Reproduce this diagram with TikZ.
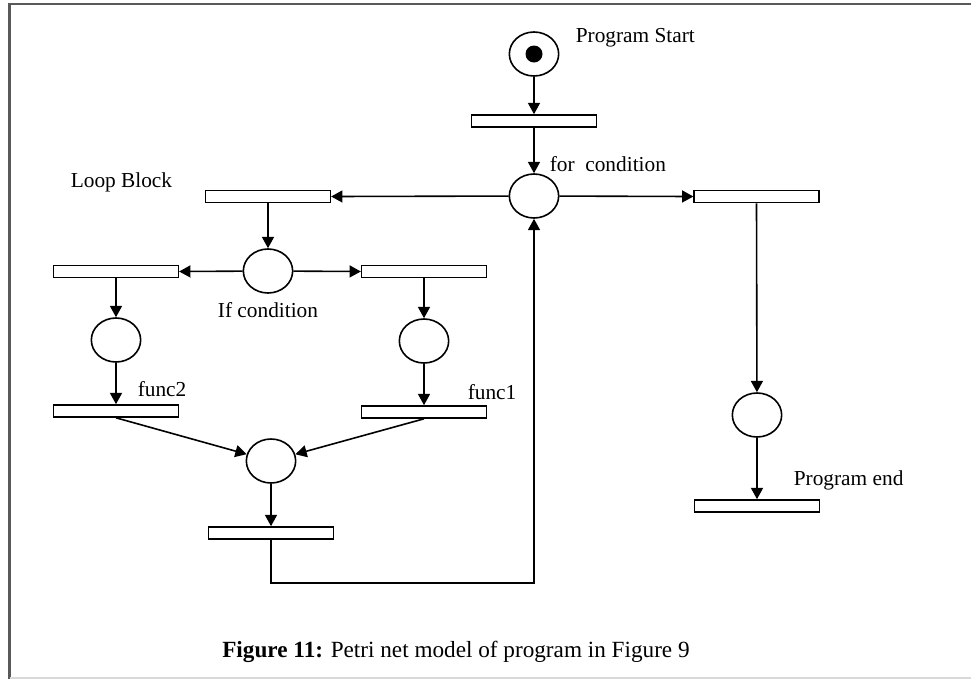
\documentclass[tikz,border=0pt]{standalone}
\usepackage{fontspec}
\setmainfont{Liberation Serif}
\usetikzlibrary{arrows.meta,shapes.geometric}

\begin{document}
\begin{tikzpicture}[x=0.75pt,y=-0.75pt,line width=1.2pt,
  place/.style={draw,ellipse,inner sep=0pt,minimum width=37pt,minimum height=33pt},
  trans/.style={draw,rectangle,inner sep=0pt,minimum width=93.5pt,minimum height=9pt},
  lbl/.style={inner sep=0pt,font=\fontsize{16}{18}\selectfont},
  arc/.style={-{Triangle[length=8.5pt,width=9pt]}}]
\useasboundingbox (0,0) rectangle (971,679);
\draw[black!65,line width=2.2pt] (9.5,679) -- (9.5,4) -- (971,4);
\draw[black!15,line width=1.5pt] (9.5,678) -- (971,678);
\node[place] (start) at (534,54) {};
\fill (start.center) circle (8.5);
\node[trans] (t0) at (534,121) {};
\node[place] (for) at (534,196) {};
\node[trans] (t1) at (268,196.5) {};
\node[trans] (t2) at (756.5,196.5) {};
\node[place] (if) at (268,271) {};
\node[trans] (t3) at (116,271.5) {};
\node[trans] (t4) at (424,271.5) {};
\node[place] (pf2) at (116,340) {};
\node[place] (pf1) at (424,341) {};
\node[trans] (t5) at (116,411) {};
\node[trans] (t6) at (424,412) {};
\node[place] (merge) at (271,461) {};
\node[trans] (t7) at (271,533) {};
\node[place] (pend) at (757,415) {};
\node[trans] (t8) at (757,506) {};
\coordinate (back) at (534,583);
\draw[arc] (start) -- (t0.north);
\draw[arc] (t0.south) -- (for);
\draw[arc] (for) -- (t1.east);
\draw[arc] (for) -- (t2.west);
\draw[arc] (t1.south) -- (if);
\draw[arc] (if) -- (t3.east);
\draw[arc] (if) -- (t4.west);
\draw[arc] (t3.south) -- (pf2);
\draw[arc] (t4.south) -- (pf1);
\draw[arc] (pf2) -- (t5.north);
\draw[arc] (pf1) -- (t6.north);
\draw[arc] (t5.south) -- (merge);
\draw[arc] (t6.south) -- (merge);
\draw[arc] (merge) -- (t7.north);
\draw[arc] (t7.south) |- (back) -- (for);
\draw[arc] (t2.south) -- (pend);
\draw[arc] (pend) -- (t8.north);
\node[lbl,anchor=west] (lstart) at (575,38) {Program Start};
\node[lbl,anchor=west] (lfor) at (549,164) {for\ \ condition};
\node[lbl,anchor=west] (lloop) at (70,182) {Loop Block};
\node[lbl] (lif) at (268,310) {If condition};
\node[lbl,anchor=west] (lf2) at (137,389) {func2};
\node[lbl,anchor=west] (lf1) at (467,392) {func1};
\node[lbl,anchor=west] (lend) at (793,480) {Program end};
\node[inner sep=0pt,font=\fontsize{17.4}{20}\selectfont] (cap) at (456,652)
  {\textbf{Figure 11:} Petri net model of program in Figure 9};
\end{tikzpicture}
\end{document}
